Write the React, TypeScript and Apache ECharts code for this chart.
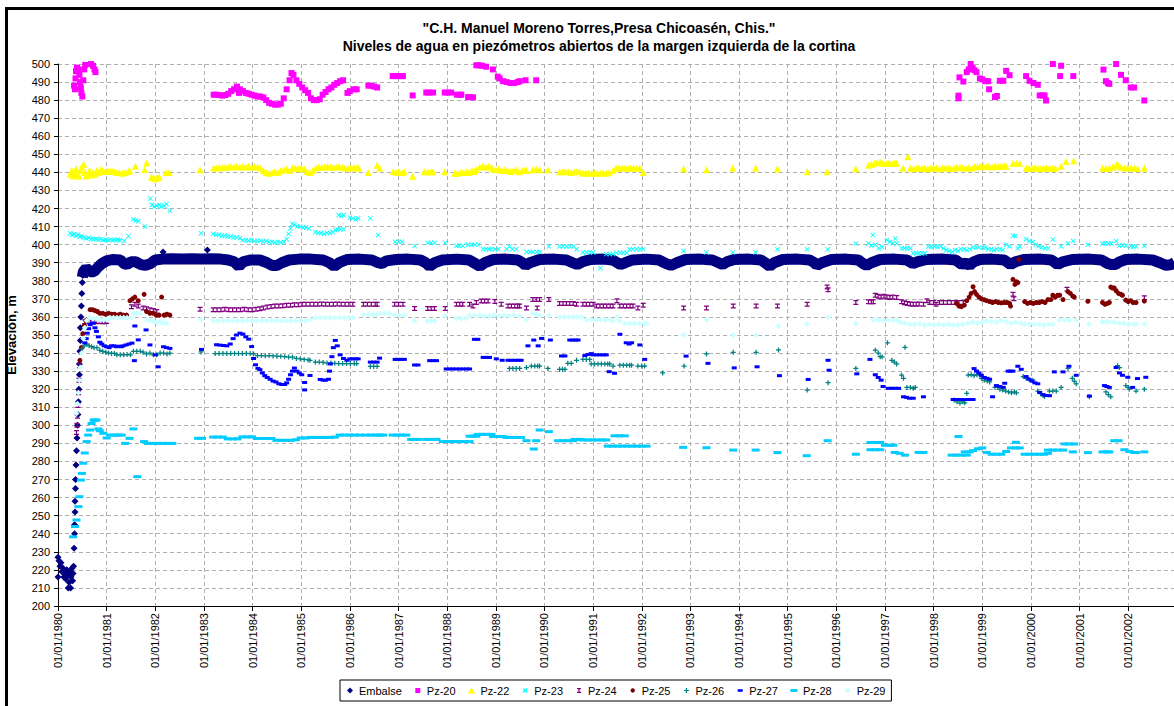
import React, { useEffect, useRef } from 'react';
import * as echarts from 'echarts';

type Pt = [number, number];

const TITLE_LINE_1 = '"C.H. Manuel Moreno Torres,Presa Chicoasén, Chis."';
const TITLE_LINE_2 = 'Niveles de agua en piezómetros abiertos de la margen izquierda de la cortina';
const Y_AXIS_NAME = 'Elevación, m';
const X_MIN = 1980;
const X_MAX = 2002.94;
const Y_MIN = 200;
const Y_MAX = 500;
const Y_STEP = 10;
const X_LABEL_PREFIX = '01/01/';

const SERIES_NAMES = ['Embalse', 'Pz-20', 'Pz-22', 'Pz-23', 'Pz-24', 'Pz-25', 'Pz-26', 'Pz-27', 'Pz-28', 'Pz-29'];
const SERIES_COLORS = ['#000080', '#FF00FF', '#FFFF00', '#00FFFF', '#800080', '#800000', '#008080', '#0000FF', '#00CCFF', '#CCFFFF'];

const EMBALSE_EARLY: Pt[] = [
  [1980.0, 227], [1980.0, 216], [1980.02, 225], [1980.04, 222], [1980.06, 224], [1980.08, 219], [1980.1, 221],
  [1980.12, 216], [1980.14, 218], [1980.16, 215], [1980.18, 220], [1980.2, 217], [1980.21, 210], [1980.23, 213],
  [1980.24, 219], [1980.26, 210], [1980.27, 216], [1980.29, 221], [1980.3, 214], [1980.31, 218], [1980.32, 222],
  [1980.33, 232], [1980.34, 240], [1980.34, 245], [1980.35, 252], [1980.35, 258], [1980.36, 265], [1980.36, 270],
  [1980.37, 278], [1980.38, 286], [1980.39, 293], [1980.4, 300], [1980.41, 306], [1980.42, 313], [1980.43, 320],
  [1980.44, 328], [1980.44, 334], [1980.45, 341], [1980.46, 347], [1980.46, 354], [1980.47, 360], [1980.48, 366],
  [1980.49, 373], [1980.5, 379], [1980.51, 383], [1982.16, 396], [1983.07, 397],
];

const EMBALSE_BAND: Pt[] = [
  [1980.5, 382], [1980.52, 385], [1980.58, 387], [1980.66, 385], [1980.74, 385], [1980.82, 387.5], [1980.9, 389.5],
  [1981.0, 391], [1981.12, 391.8], [1981.28, 391.5], [1981.36, 389.5], [1981.42, 389], [1981.5, 390.5], [1981.6, 390.5],
  [1981.7, 389], [1981.8, 388.5], [1981.9, 389.5], [1982.0, 391.5], [1982.15, 392], [1982.35, 392.2], [1982.55, 392],
  [1982.75, 392.2], [1982.95, 392], [1983.15, 392.2], [1983.35, 392], [1983.5, 391.5], [1983.62, 390.5], [1983.72, 388],
  [1983.8, 390.5], [1983.95, 391.5], [1984.15, 391.5], [1984.3, 390], [1984.4, 388.5], [1984.5, 388.5], [1984.6, 390],
  [1984.75, 391.5], [1984.95, 392], [1985.2, 392], [1985.45, 391.5], [1985.58, 390], [1985.68, 388], [1985.78, 390],
  [1985.95, 391.8], [1986.2, 392], [1986.45, 391.5], [1986.58, 390], [1986.66, 389.5], [1986.75, 391], [1986.95, 391.8],
  [1987.2, 392], [1987.45, 391.5], [1987.56, 390], [1987.64, 388], [1987.74, 390], [1987.9, 391.5], [1988.2, 392],
  [1988.45, 391.5], [1988.58, 389.5], [1988.67, 388], [1988.77, 390], [1988.95, 391.8], [1989.2, 392], [1989.45, 391.5],
  [1989.55, 390], [1989.61, 388.5], [1989.7, 390], [1989.9, 391.8], [1990.2, 392], [1990.45, 391.5], [1990.58, 390],
  [1990.67, 389], [1990.78, 390.5], [1990.95, 391.8], [1991.2, 392], [1991.4, 391.5], [1991.5, 390], [1991.56, 389],
  [1991.66, 390], [1991.8, 391.5], [1992.1, 392], [1992.35, 391.5], [1992.5, 389.5], [1992.6, 388.5], [1992.72, 390],
  [1992.9, 391.8], [1993.2, 392], [1993.45, 391.5], [1993.58, 390], [1993.66, 389], [1993.75, 390.5], [1993.9, 391.8],
  [1994.2, 392], [1994.45, 391.5], [1994.56, 389.5], [1994.63, 388], [1994.72, 390], [1994.9, 391.8], [1995.2, 392],
  [1995.45, 391.5], [1995.55, 390], [1995.6, 388.5], [1995.7, 390], [1995.9, 391.8], [1996.2, 392], [1996.45, 391.5],
  [1996.55, 389.5], [1996.62, 388.5], [1996.72, 390], [1996.9, 391.8], [1997.2, 392], [1997.45, 391.5], [1997.57, 389.5],
  [1997.66, 390.5], [1997.85, 391.8], [1998.2, 392], [1998.45, 391.5], [1998.58, 389], [1998.66, 390], [1998.74, 388.5],
  [1998.82, 390.5], [1998.95, 391.8], [1999.2, 392], [1999.45, 391.5], [1999.53, 390], [1999.58, 389], [1999.68, 390.5],
  [1999.85, 391.8], [2000.2, 392], [2000.42, 391.5], [2000.5, 390], [2000.55, 389], [2000.65, 390.5], [2000.85, 391.8],
  [2001.2, 392], [2001.45, 391.5], [2001.58, 389.5], [2001.66, 389], [2001.74, 389], [2001.82, 390.5], [2001.95, 391.8],
  [2002.2, 392], [2002.5, 391.5], [2002.65, 390], [2002.78, 388.5], [2002.88, 389], [2002.95, 390],
];

const PZ20: Pt[] = [
  [1980.33, 488], [1980.35, 486], [1980.36, 492], [1980.37, 496], [1980.39, 498], [1980.42, 497], [1980.44, 494],
  [1980.45, 490], [1980.47, 487], [1980.48, 484], [1980.5, 482], [1980.52, 491], [1980.54, 497], [1980.56, 499.5],
  [1980.6, 500.5], [1980.64, 500.5], [1980.68, 500], [1980.72, 499], [1980.75, 497], [1980.77, 495.5],
  [1983.2, 483], [1983.26, 483], [1983.32, 482.8], [1983.38, 482.5], [1983.44, 482.8], [1983.5, 483.5], [1983.56, 485],
  [1983.62, 486], [1983.68, 487.5], [1983.72, 484], [1983.74, 486], [1983.8, 485], [1983.86, 484], [1983.92, 483.5],
  [1983.98, 483], [1984.04, 482.5], [1984.1, 482], [1984.16, 482], [1984.22, 481.5], [1984.28, 480], [1984.34, 478.5],
  [1984.4, 478], [1984.46, 477.5], [1984.52, 477.5], [1984.58, 478], [1984.64, 481], [1984.7, 486], [1984.76, 491],
  [1984.8, 495], [1984.84, 494], [1984.9, 491], [1984.96, 489], [1985.02, 487], [1985.08, 485.5], [1985.14, 484],
  [1985.2, 481], [1985.26, 480], [1985.32, 480], [1985.38, 480.5], [1985.44, 483], [1985.5, 484.5], [1985.56, 486],
  [1985.62, 487], [1985.68, 488.5], [1985.74, 489.5], [1985.8, 490.5], [1985.86, 491],
  [1985.95, 484], [1986.0, 485], [1986.08, 486], [1986.14, 486],
  [1986.38, 488], [1986.44, 488], [1986.5, 487.5], [1986.56, 487],
  [1986.88, 493.3], [1986.94, 493.3], [1987.0, 493.3], [1987.06, 493.3], [1987.09, 493.3],
  [1987.29, 482.6], [1987.57, 484.2], [1987.63, 484.2], [1987.71, 484.2], [1987.95, 484.2], [1988.01, 484.2],
  [1988.08, 484.2], [1988.2, 483], [1988.26, 483], [1988.29, 483], [1988.43, 481.7], [1988.48, 481.7], [1988.53, 481.5],
  [1988.6, 499.3], [1988.66, 499.3], [1988.72, 499], [1988.8, 498.5], [1988.94, 497], [1989.04, 493], [1989.08, 492],
  [1989.15, 490.5], [1989.22, 490], [1989.3, 489.5], [1989.38, 489.5], [1989.45, 490], [1989.49, 490.5],
  [1989.61, 491], [1989.83, 491],
  [1998.51, 481], [1998.51, 482.5], [1998.53, 492.6], [1998.61, 490.3], [1998.68, 495.5], [1998.72, 497], [1998.76, 500],
  [1998.8, 498], [1998.84, 496.5], [1998.88, 495.5], [1998.95, 492], [1999.0, 491.5], [1999.06, 490.5], [1999.12, 490.5],
  [1999.14, 486], [1999.26, 481.7], [1999.3, 482.3], [1999.36, 490.7], [1999.43, 490.7], [1999.49, 496.2], [1999.56, 493.8],
  [1999.9, 493.3], [1999.97, 490.7], [2000.05, 489.5], [2000.14, 488.5], [2000.18, 482.6], [2000.24, 482.6],
  [2000.28, 482.6], [2000.31, 479.8], [2000.45, 500], [2000.6, 493.3], [2000.62, 499], [2000.87, 493.3],
  [2001.49, 496.9], [2001.54, 490.5], [2001.58, 489.5], [2001.61, 489], [2001.75, 500], [2001.85, 494], [2001.95, 491],
  [2002.05, 487], [2002.12, 487], [2002.33, 479.8],
];

const PZ22: Pt[] = [
  [1980.25, 439], [1980.28, 441], [1980.31, 438], [1980.34, 440], [1980.37, 442], [1980.4, 439], [1980.43, 438],
  [1980.46, 441], [1980.49, 443], [1980.53, 444.5], [1980.55, 440], [1980.58, 438], [1980.62, 439], [1980.65, 441],
  [1980.68, 438.5], [1980.72, 440], [1980.76, 439], [1980.8, 441], [1980.84, 440], [1980.88, 441.5], [1980.92, 441],
  [1980.97, 440.5], [1981.02, 441], [1981.08, 440.5], [1981.14, 441], [1981.2, 440], [1981.26, 440], [1981.32, 439.5],
  [1981.38, 440], [1981.44, 440.5], [1981.47, 441], [1981.59, 443.4], [1981.78, 441.5], [1981.82, 445.2],
  [1981.92, 437.5], [1981.96, 437], [1982.0, 436.5], [1982.04, 437], [1982.08, 437.5], [1982.22, 440], [1982.29, 440],
  [1982.92, 441.5],
  [1983.2, 442.4], [1983.26, 442.5], [1983.32, 442.8], [1983.38, 442.6], [1983.44, 443], [1983.5, 443], [1983.56, 443.2],
  [1983.62, 443], [1983.68, 443.4], [1983.74, 443], [1983.8, 443.2], [1983.86, 443], [1983.92, 443.4], [1983.98, 443],
  [1984.04, 443.2], [1984.1, 443], [1984.16, 442.5], [1984.22, 441], [1984.28, 440], [1984.34, 439.5], [1984.4, 440],
  [1984.46, 440.5], [1984.52, 440], [1984.58, 441], [1984.64, 441.5], [1984.7, 442], [1984.76, 441], [1984.82, 442.5],
  [1984.88, 442.4], [1984.94, 442], [1985.0, 442.5], [1985.06, 442], [1985.12, 440.5], [1985.18, 440], [1985.24, 441],
  [1985.3, 442.5], [1985.36, 443], [1985.42, 442.8], [1985.48, 443], [1985.54, 443.2], [1985.6, 443], [1985.66, 442.8],
  [1985.72, 443], [1985.78, 443.2], [1985.84, 443], [1985.9, 442.4], [1985.96, 442.5], [1986.02, 442.4], [1986.08, 442.8],
  [1986.14, 442.4], [1986.18, 442.4], [1986.38, 440], [1986.56, 444],
  [1986.61, 442.4], [1986.89, 440.5], [1986.95, 440], [1987.01, 440.3], [1987.07, 440], [1987.12, 440.3], [1987.29, 437.8],
  [1987.53, 440.3], [1987.6, 440.3], [1987.67, 440.3], [1987.71, 440.3], [1987.95, 440.3],
  [1988.15, 439.5], [1988.21, 439.5], [1988.27, 440], [1988.33, 440], [1988.39, 440.5], [1988.45, 440], [1988.51, 441],
  [1988.56, 440.5], [1988.6, 441.5], [1988.67, 443], [1988.73, 443.4], [1988.79, 443], [1988.85, 443.4], [1988.91, 443],
  [1988.94, 442], [1989.0, 441.5], [1989.06, 442], [1989.12, 441], [1989.18, 441.5], [1989.24, 441], [1989.3, 440.5],
  [1989.36, 441], [1989.42, 441.5], [1989.48, 440.3], [1989.54, 441], [1989.6, 441.5], [1989.63, 441],
  [1989.76, 441.5], [1989.83, 442], [1989.9, 441.5], [1990.07, 441.5],
  [1990.31, 440.3], [1990.37, 440.3], [1990.43, 440.5], [1990.49, 440.3], [1990.55, 440], [1990.61, 440.3], [1990.67, 440.5],
  [1990.72, 440.3], [1990.79, 439.5], [1990.85, 440], [1990.91, 439.5], [1990.97, 439.5], [1991.03, 439.8], [1991.09, 439.5],
  [1991.15, 439.5], [1991.21, 439.8], [1991.27, 439.5], [1991.33, 440], [1991.41, 441], [1991.47, 442.4], [1991.53, 442.4],
  [1991.59, 442.6], [1991.65, 442.4], [1991.71, 442.4], [1991.77, 442.6], [1991.83, 442.4], [1991.9, 442.5], [1991.96, 442.4],
  [1992.03, 440], [1992.86, 442], [1993.33, 441.5], [1993.87, 442.4], [1994.34, 442.4], [1994.79, 442], [1995.4, 440.3],
  [1995.81, 440.3], [1996.4, 442],
  [1996.66, 444], [1996.72, 444.5], [1996.78, 445], [1996.84, 445.5], [1996.9, 445.8], [1996.96, 445], [1997.02, 445],
  [1997.08, 445.2], [1997.14, 445], [1997.2, 445], [1997.24, 445], [1997.37, 442.4], [1997.47, 448.6],
  [1997.52, 442.4], [1997.58, 442], [1997.64, 442.4], [1997.7, 442.6], [1997.76, 442.2], [1997.82, 442.4], [1997.88, 442],
  [1997.94, 442.4], [1998.0, 442.6], [1998.06, 442.4], [1998.12, 442], [1998.18, 442.4], [1998.24, 442.6], [1998.3, 442.4],
  [1998.36, 442.2], [1998.42, 442.4], [1998.48, 442.8], [1998.54, 443], [1998.6, 442.6], [1998.66, 442.4], [1998.72, 442.6],
  [1998.78, 442.4], [1998.84, 443.4], [1998.9, 443], [1998.96, 443.4], [1999.02, 443.6], [1999.08, 443.2], [1999.14, 443.4],
  [1999.2, 443], [1999.26, 443.4], [1999.32, 443.6], [1999.38, 443.2], [1999.44, 444], [1999.49, 443.4],
  [1999.63, 445], [1999.7, 445], [1999.77, 445],
  [1999.9, 442.4], [1999.96, 442.2], [2000.02, 442.4], [2000.08, 442.6], [2000.14, 442.4], [2000.2, 442], [2000.26, 442.4],
  [2000.32, 442.6], [2000.38, 442.4], [2000.44, 442.2], [2000.5, 442.4], [2000.62, 443.4], [2000.72, 446], [2000.88, 446.4],
  [2001.47, 442.4], [2001.54, 442.2], [2001.61, 442.4], [2001.68, 443], [2001.75, 444], [2001.78, 444.5], [2001.85, 443],
  [2001.92, 442.4], [2001.99, 442.6], [2002.06, 442.4], [2002.13, 442.4], [2002.19, 442.2], [2002.33, 442.4],
];

const PZ23: Pt[] = [
  [1980.25, 406.3], [1980.29, 405.5], [1980.33, 405.8], [1980.37, 404.8], [1980.41, 405.5], [1980.45, 404.4], [1980.49, 404.6],
  [1980.53, 404], [1980.58, 403.5], [1980.63, 403.8], [1980.68, 403.2], [1980.73, 403], [1980.78, 403.2], [1980.83, 402.8],
  [1980.88, 403], [1980.93, 402.5], [1980.98, 402.8], [1981.03, 402.5], [1981.08, 402.8], [1981.13, 402.5], [1981.18, 402.5],
  [1981.23, 402.8], [1981.27, 402.5], [1981.36, 402], [1981.45, 404.6], [1981.55, 414], [1981.6, 413.5], [1981.65, 413],
  [1981.79, 410], [1981.9, 425.5], [1981.93, 422], [1981.98, 421], [1982.03, 421.5], [1982.08, 422], [1982.13, 421],
  [1982.18, 421.5], [1982.23, 422.5], [1982.3, 418.8], [1982.94, 406.3],
  [1983.19, 406], [1983.25, 405.5], [1983.31, 405.5], [1983.37, 405], [1983.43, 405], [1983.49, 404.5], [1983.55, 404.5],
  [1983.61, 404], [1983.67, 404], [1983.74, 403.5], [1983.8, 402.5], [1983.86, 402.5], [1983.92, 402.3], [1983.98, 402.5],
  [1984.04, 402], [1984.1, 402], [1984.16, 402.2], [1984.22, 401.8], [1984.28, 402], [1984.34, 401.5], [1984.4, 401.5],
  [1984.46, 401.2], [1984.52, 401.5], [1984.58, 401.2], [1984.64, 401.5], [1984.7, 403], [1984.74, 406], [1984.78, 409],
  [1984.82, 411.5], [1984.86, 411], [1984.92, 410], [1984.98, 410], [1985.04, 409.5], [1985.1, 409.5], [1985.16, 409],
  [1985.29, 407], [1985.35, 406.5], [1985.41, 406.5], [1985.47, 406], [1985.53, 406.5], [1985.59, 406.5], [1985.65, 407],
  [1985.7, 408], [1985.75, 408.5], [1985.8, 408.5], [1985.87, 408.5], [1985.77, 416.4], [1985.82, 416], [1985.87, 416.4],
  [1986.0, 415], [1986.06, 414.5], [1986.12, 414], [1986.17, 414.5], [1986.42, 414.6], [1986.58, 405.3],
  [1986.93, 401.6], [1987.0, 401.6], [1987.07, 401.6], [1987.33, 399.2], [1987.6, 401], [1987.67, 401], [1987.74, 401],
  [1987.96, 401], [1988.19, 399.4], [1988.25, 399.4], [1988.32, 399.4], [1988.43, 400], [1988.5, 400], [1988.57, 400],
  [1988.64, 400], [1988.74, 397.5], [1988.8, 397.5], [1988.86, 397.5], [1988.91, 397.5], [1988.98, 397.5], [1989.05, 397.5],
  [1989.22, 397.5], [1989.28, 399], [1989.34, 397.5], [1989.42, 397.5], [1989.63, 396], [1989.7, 396], [1989.77, 396],
  [1989.84, 396], [1989.9, 396], [1990.09, 399], [1990.31, 399], [1990.38, 399], [1990.45, 399], [1990.52, 399],
  [1990.59, 399], [1990.66, 397.5], [1990.79, 395.7], [1990.86, 395.7], [1990.93, 395.7], [1991.0, 395.7], [1991.15, 387],
  [1991.27, 394.8], [1991.34, 394.8], [1991.41, 394.8], [1991.48, 395.5], [1991.55, 395.5], [1991.62, 395.5],
  [1991.69, 395.5], [1991.75, 397.5], [1991.82, 397.5], [1991.89, 397.5], [1991.96, 397.5], [1992.03, 397.5],
  [1992.86, 396.5], [1993.33, 395.7], [1993.87, 395.7], [1994.34, 395.7], [1994.79, 397.5], [1995.4, 397.4],
  [1995.82, 397.4], [1996.4, 400.7],
  [1996.66, 400.7], [1996.72, 399.5], [1996.75, 405.3], [1996.8, 400], [1996.87, 398], [1996.94, 398.8], [1997.04, 402.5],
  [1997.1, 401.5], [1997.16, 400.7], [1997.21, 403.4], [1997.24, 400.7], [1997.34, 398], [1997.4, 398], [1997.46, 398],
  [1997.52, 398], [1997.58, 395.2], [1997.64, 395.2], [1997.7, 395.2], [1997.76, 395.2], [1997.82, 395.2], [1997.89, 399],
  [1997.95, 399], [1998.02, 399], [1998.08, 399], [1998.14, 399], [1998.2, 398], [1998.26, 397], [1998.32, 396.5],
  [1998.38, 396], [1998.44, 397], [1998.5, 396.5], [1998.56, 397.5], [1998.62, 397.5], [1998.68, 397], [1998.74, 397.5],
  [1998.81, 398.5], [1998.87, 398.5], [1998.93, 398.5], [1999.0, 398.5], [1999.06, 398.5], [1999.12, 397.5],
  [1999.18, 397.5], [1999.24, 397], [1999.3, 397.5], [1999.36, 397.5], [1999.42, 397], [1999.49, 400], [1999.56, 399],
  [1999.63, 405], [1999.68, 404.8], [1999.73, 398], [1999.77, 399], [1999.9, 403], [1999.97, 402], [2000.04, 401.5],
  [2000.1, 400], [2000.16, 399], [2000.22, 398.5], [2000.29, 398], [2000.35, 398], [2000.45, 402.8], [2000.62, 399],
  [2000.76, 400.7], [2000.87, 402], [2001.17, 400], [2001.47, 400.7], [2001.53, 400.7], [2001.59, 400.7], [2001.65, 400.7],
  [2001.75, 402], [2001.82, 399.5], [2001.88, 399.5], [2001.95, 399.5], [2002.05, 399], [2002.1, 399], [2002.16, 399],
  [2002.33, 399.2],
];

const PZ24: Pt[] = [
  [1980.38, 296], [1980.39, 300], [1980.4, 305], [1980.41, 311], [1980.42, 318], [1980.43, 325], [1980.44, 333],
  [1980.55, 357.3], [1980.61, 357.5], [1980.67, 357.3], [1980.73, 357.5], [1980.79, 357.3], [1980.85, 357.5],
  [1980.91, 357.3], [1980.97, 357.3], [1981.0, 357.5], [1981.51, 365.6], [1981.58, 367], [1981.65, 366],
  [1981.75, 365], [1981.82, 364.5], [1981.89, 364], [1981.96, 363.5], [1982.03, 363], [1982.92, 364.2],
  [1983.19, 364], [1983.27, 364], [1983.35, 364], [1983.43, 364.2], [1983.51, 364], [1983.59, 364], [1983.67, 364],
  [1983.75, 364], [1983.83, 364.2], [1983.91, 364], [1983.99, 364], [1984.07, 364.2], [1984.15, 364.5], [1984.22, 365],
  [1984.3, 365.5], [1984.38, 365.8], [1984.46, 366], [1984.54, 366], [1984.62, 366.2], [1984.7, 366.5], [1984.78, 366.5],
  [1984.86, 366.8], [1984.94, 366.8], [1985.02, 367], [1985.1, 367], [1985.18, 367], [1985.26, 367], [1985.34, 367],
  [1985.42, 367.2], [1985.5, 367], [1985.58, 367], [1985.66, 367], [1985.74, 367.2], [1985.82, 367], [1985.9, 367],
  [1985.98, 367], [1986.06, 367], [1986.28, 367], [1986.36, 367], [1986.44, 367], [1986.52, 367], [1986.56, 367],
  [1986.92, 367], [1987.0, 367], [1987.09, 367], [1987.33, 364.7], [1987.6, 364.7], [1987.67, 364.7], [1987.74, 364.7],
  [1987.96, 364.7], [1988.19, 367], [1988.26, 367], [1988.32, 367], [1988.46, 367], [1988.53, 366], [1988.6, 368],
  [1988.7, 368.8], [1988.77, 368.8], [1988.84, 368.8], [1988.98, 368.5], [1989.11, 367], [1989.25, 366], [1989.32, 366],
  [1989.39, 366], [1989.45, 366], [1989.49, 366], [1989.63, 365], [1989.76, 369.7], [1989.83, 369.7], [1989.85, 365],
  [1989.9, 369.7], [1990.09, 369.7], [1990.31, 367.5], [1990.38, 367.5], [1990.45, 367.5], [1990.52, 367.5],
  [1990.59, 367.5], [1990.66, 367], [1990.79, 367], [1990.86, 367], [1990.93, 367], [1991.0, 367], [1991.07, 366],
  [1991.14, 366], [1991.21, 366], [1991.28, 366], [1991.35, 366], [1991.41, 366], [1991.49, 368.9], [1991.55, 366],
  [1991.62, 366], [1991.69, 366], [1991.76, 366], [1991.82, 366], [1991.92, 365], [1992.03, 366.5], [1992.86, 365],
  [1993.33, 365], [1993.88, 366], [1994.35, 366], [1994.79, 366], [1995.4, 367], [1995.81, 376.5], [1995.83, 375],
  [1996.4, 368], [1996.66, 368.4], [1996.72, 368.4], [1996.76, 368.4], [1996.8, 372], [1996.86, 371.5], [1996.92, 371],
  [1996.98, 371.5], [1997.04, 371], [1997.1, 370.7], [1997.16, 371], [1997.24, 370.7], [1997.34, 368.4], [1997.4, 367.8],
  [1997.46, 367.5], [1997.52, 367.2], [1997.58, 367], [1997.64, 367], [1997.7, 367.2], [1997.79, 367], [1997.86, 369],
  [1997.92, 368], [1998.0, 368], [1998.05, 367], [1998.12, 368], [1998.2, 368], [1998.28, 368], [1998.36, 368],
  [1998.44, 368], [1998.52, 368], [1998.61, 368], [1999.63, 372.5], [1999.65, 370], [2000.74, 375.3], [2002.33, 370.6],
];

const PZ25: Pt[] = [
  [1980.45, 336], [1980.48, 343], [1980.51, 350.7], [1980.54, 355.3], [1980.57, 358], [1980.6, 358.5], [1980.66, 364],
  [1980.71, 364], [1980.76, 363.5], [1980.81, 363], [1980.86, 362], [1980.92, 362], [1980.98, 361.5], [1981.04, 362],
  [1981.1, 361.5], [1981.16, 361.5], [1981.22, 361], [1981.28, 361.5], [1981.34, 361], [1981.41, 361], [1981.48, 369],
  [1981.53, 370], [1981.58, 371], [1981.65, 369], [1981.77, 372.5], [1981.82, 363], [1981.89, 362], [1981.96, 362],
  [1982.02, 361], [1982.08, 361], [1982.13, 371], [1982.18, 361], [1982.24, 361.5], [1982.3, 361],
  [1998.47, 367.5], [1998.52, 366], [1998.57, 365.7], [1998.63, 366.5], [1998.68, 369], [1998.73, 371], [1998.77, 373],
  [1998.81, 376.7], [1998.84, 374], [1998.88, 372.5], [1998.93, 371], [1998.98, 370], [1999.04, 369.5], [1999.09, 369],
  [1999.15, 368.5], [1999.21, 368], [1999.27, 368.5], [1999.33, 368], [1999.39, 367.8], [1999.45, 368], [1999.51, 368],
  [1999.56, 367.5], [1999.58, 366], [1999.63, 380.8], [1999.67, 378], [1999.7, 379.5], [1999.73, 379], [1999.75, 391.9],
  [1999.87, 368.5], [1999.93, 367.5], [1999.99, 368], [2000.05, 367.5], [2000.11, 368], [2000.17, 368], [2000.23, 368.5],
  [2000.29, 368], [2000.35, 369.6], [2000.41, 369.6], [2000.45, 372], [2000.5, 371], [2000.55, 372], [2000.59, 372],
  [2000.66, 369.6], [2000.76, 374], [2000.81, 373], [2000.86, 371.5], [2000.89, 371], [2001.17, 368.7], [2001.47, 368],
  [2001.52, 367], [2001.57, 367.5], [2001.61, 368], [2001.64, 376.5], [2001.68, 376], [2001.71, 376], [2001.75, 374.5],
  [2001.8, 373], [2001.85, 372.5], [2001.88, 372], [2001.95, 369.3], [2002.0, 368.5], [2002.05, 369], [2002.1, 368],
  [2002.16, 368], [2002.33, 368.8],
];

const PZ26: Pt[] = [
  [1980.49, 342.3], [1980.54, 344], [1980.59, 345], [1980.64, 344], [1980.69, 343.5], [1980.74, 343], [1980.8, 343],
  [1980.86, 341.5], [1980.92, 341], [1980.98, 340.5], [1981.04, 340], [1981.1, 339.8], [1981.16, 339.8], [1981.21, 339],
  [1981.28, 339], [1981.35, 339], [1981.42, 339.2], [1981.49, 339], [1981.55, 341], [1981.62, 341], [1981.69, 341],
  [1981.75, 340.5], [1981.82, 339.5], [1981.89, 340], [1981.96, 339], [1982.03, 339], [1982.1, 340], [1982.17, 340],
  [1982.24, 339.5], [1982.3, 340], [1982.94, 340.6],
  [1983.23, 339.7], [1983.31, 339.7], [1983.39, 339.8], [1983.47, 339.7], [1983.55, 339.7], [1983.63, 339.8], [1983.71, 339.7],
  [1983.79, 339.7], [1983.87, 339.8], [1983.95, 339.7], [1984.02, 339.5], [1984.1, 338.6], [1984.18, 338.6], [1984.26, 338.5],
  [1984.34, 338.6], [1984.42, 338.4], [1984.5, 338.3], [1984.58, 338.2], [1984.66, 338], [1984.74, 337.8], [1984.82, 337.7],
  [1984.9, 337], [1984.98, 336.8], [1985.06, 336.5], [1985.14, 336.2], [1985.18, 336], [1985.29, 335], [1985.37, 335],
  [1985.45, 334.8], [1985.53, 334.5], [1985.61, 334.5], [1985.69, 334.3], [1985.77, 334.2], [1985.85, 334.2], [1985.93, 334.2],
  [1986.01, 334.2], [1986.09, 334.2], [1986.14, 334.2], [1986.42, 332.6], [1986.49, 332.6], [1986.56, 332.6],
  [1989.28, 331.5], [1989.35, 331.5], [1989.42, 331.5], [1989.49, 331.5], [1989.63, 332], [1989.73, 332.8], [1989.8, 332.8],
  [1989.86, 332.8], [1989.9, 332.8], [1990.07, 331.5], [1990.31, 331], [1990.37, 331], [1990.42, 331], [1990.48, 334.3],
  [1990.55, 334.3], [1990.66, 336], [1990.79, 336.5], [1990.86, 336.5], [1990.93, 336.5], [1990.96, 334], [1991.03, 334],
  [1991.1, 334], [1991.17, 334], [1991.24, 334], [1991.3, 334], [1991.34, 334], [1991.41, 332.8], [1991.55, 333.3],
  [1991.62, 333.3], [1991.69, 333.3], [1991.75, 333.3], [1991.79, 333.3], [1991.92, 332.8], [1992.0, 332.8], [1992.06, 332.8],
  [1992.43, 329], [1992.87, 332.8], [1993.33, 339.5], [1993.88, 340.4], [1994.35, 340.4], [1994.81, 341.7], [1995.4, 319.5],
  [1995.83, 323.6], [1996.4, 331.5],
  [1996.8, 341.6], [1996.86, 340], [1996.9, 338], [1996.94, 337.9], [1997.05, 345.7], [1997.14, 336], [1997.19, 335],
  [1997.24, 334], [1997.34, 327.8], [1997.38, 326], [1997.41, 343.2], [1997.45, 321], [1997.52, 321], [1997.58, 320.5],
  [1997.62, 321], [1998.42, 314], [1998.48, 313], [1998.54, 312.3], [1998.6, 313], [1998.64, 312.5], [1998.68, 317.7],
  [1998.71, 327.8], [1998.77, 328], [1998.83, 327.5], [1998.89, 328], [1998.95, 327.8], [1998.98, 326], [1999.04, 325],
  [1999.1, 324.5], [1999.15, 324], [1999.26, 321], [1999.32, 321], [1999.36, 320], [1999.42, 319.5], [1999.48, 319],
  [1999.54, 318.5], [1999.6, 318], [1999.66, 318.5], [1999.7, 318], [1999.84, 327], [1999.9, 326], [1999.96, 325.5],
  [2000.04, 325], [2000.14, 319], [2000.2, 317.5], [2000.25, 316.5], [2000.28, 316], [2000.38, 319], [2000.45, 319],
  [2000.52, 319], [2000.62, 321], [2000.76, 331.5], [2000.85, 326], [2000.89, 324.5], [2000.93, 323], [2001.2, 315.8],
  [2001.54, 318.5], [2001.59, 317], [2001.64, 315.8], [2001.78, 333], [2001.82, 332], [2001.95, 322], [2002.0, 321],
  [2002.02, 320], [2002.16, 319], [2002.33, 320],
];

const PZ27: Pt[] = [
  [1980.55, 345.6], [1980.58, 348], [1980.6, 351], [1980.63, 353.5], [1980.66, 355.7], [1980.7, 356.5], [1980.73, 356.6],
  [1980.76, 354], [1980.79, 352], [1980.83, 349], [1980.86, 346], [1980.9, 345], [1980.95, 344], [1981.0, 343.5],
  [1981.05, 343], [1981.1, 344], [1981.15, 344], [1981.2, 343.5], [1981.25, 343.8], [1981.3, 343.5], [1981.34, 344],
  [1981.4, 344.5], [1981.46, 345], [1981.52, 345.5], [1981.57, 335.8], [1981.58, 355], [1981.65, 347.3], [1981.81, 352.8],
  [1981.89, 344.5], [1982.0, 339], [1982.06, 332.4], [1982.17, 343.5], [1982.23, 343], [1982.3, 342.6], [1982.95, 342],
  [1983.26, 344.6], [1983.33, 344.4], [1983.4, 344.2], [1983.47, 344], [1983.54, 345], [1983.6, 348], [1983.67, 350],
  [1983.74, 351], [1983.8, 350.5], [1983.86, 349], [1983.92, 347.7], [1983.98, 343.6], [1984.02, 337], [1984.06, 333.5],
  [1984.11, 331.5], [1984.15, 330.8], [1984.2, 329], [1984.25, 327.5], [1984.3, 326.5], [1984.36, 325.5], [1984.42, 324.5],
  [1984.48, 324], [1984.54, 323], [1984.6, 322.6], [1984.66, 322.6], [1984.7, 323.5], [1984.74, 325.5], [1984.78, 328],
  [1984.82, 330], [1984.86, 331.7], [1984.91, 330], [1984.96, 329], [1985.01, 328], [1985.07, 323.7], [1985.07, 319.6],
  [1985.18, 327.6], [1985.39, 325.4], [1985.45, 325], [1985.5, 325], [1985.56, 325.5], [1985.58, 330], [1985.6, 334],
  [1985.63, 338], [1985.66, 343], [1985.7, 347], [1985.74, 344], [1985.8, 339], [1985.87, 337], [1985.94, 336],
  [1986.0, 336.8], [1986.06, 336.8], [1986.12, 336.8], [1986.17, 336.8], [1986.42, 335], [1986.49, 335], [1986.56, 335],
  [1986.61, 337.2], [1986.93, 336.5], [1986.99, 336.5], [1987.05, 336.5], [1987.12, 336.5], [1987.33, 333.4], [1987.4, 333.4],
  [1987.64, 335.8], [1987.71, 335.8], [1987.78, 335.8], [1987.98, 331.2], [1988.05, 331.2], [1988.12, 331.2], [1988.19, 331.2],
  [1988.26, 331.2], [1988.33, 331.2], [1988.4, 331.2], [1988.46, 331.2], [1988.56, 347.6], [1988.63, 347.6], [1988.74, 337.6],
  [1988.8, 337.6], [1988.87, 337.6], [1989.01, 336.8], [1989.13, 336], [1989.25, 336], [1989.32, 336], [1989.39, 336],
  [1989.46, 336], [1989.52, 336], [1989.66, 344], [1989.78, 347.2], [1989.87, 344], [1989.94, 348.1], [1990.12, 347.2],
  [1990.35, 338.4], [1990.42, 338.4], [1990.52, 347.2], [1990.58, 347.2], [1990.64, 347.2], [1990.69, 347.2], [1990.83, 338.6],
  [1990.9, 339.2], [1990.96, 339.7], [1991.0, 339], [1991.07, 339], [1991.14, 339], [1991.21, 339], [1991.27, 339],
  [1991.33, 329.7], [1991.44, 328.8], [1991.55, 350.4], [1991.68, 345.7], [1991.74, 345], [1991.79, 345.7], [1991.96, 344.5],
  [1992.06, 336.5], [1992.91, 338.3], [1993.36, 334.3], [1993.9, 331.8], [1994.37, 332.4], [1994.83, 327.5], [1995.42, 325.4],
  [1995.83, 336], [1995.85, 330.5], [1996.42, 328.5], [1996.69, 336.5],
  [1996.8, 328], [1996.86, 326.5], [1996.92, 325], [1996.96, 321.5], [1997.07, 320.5], [1997.14, 320.5], [1997.21, 320.5],
  [1997.28, 320.5], [1997.38, 315.8], [1997.44, 315.5], [1997.5, 315], [1997.58, 315], [1997.79, 315.8], [1998.4, 314.3],
  [1998.46, 314.3], [1998.52, 314.3], [1998.58, 314.3], [1998.64, 314.3], [1998.7, 314.3], [1998.76, 314.3], [1998.81, 314.3],
  [1998.83, 331.4], [1998.88, 330], [1998.93, 329], [1998.98, 327.7], [1999.04, 326.5], [1999.1, 326], [1999.15, 325.5],
  [1999.21, 315.8], [1999.29, 322], [1999.36, 321.5], [1999.43, 321], [1999.46, 323.3], [1999.53, 330], [1999.58, 330],
  [1999.63, 330], [1999.73, 332.7], [1999.8, 331], [1999.9, 327], [1999.96, 325.5], [2000.02, 324.5], [2000.08, 323.5],
  [2000.14, 323], [2000.18, 318.2], [2000.25, 317], [2000.31, 316.5], [2000.38, 316.4], [2000.48, 329.6], [2000.66, 329.6],
  [2000.78, 332.7], [2000.93, 327.7], [2001.2, 316.2], [2001.51, 322], [2001.56, 321.5], [2001.61, 321], [2001.75, 332],
  [2001.82, 329], [2001.88, 327.7], [2001.99, 326.6], [2002.09, 321], [2002.19, 325.9], [2002.36, 326.6],
];

const PZ28: Pt[] = [
  [1980.31, 238.3], [1980.35, 244], [1980.38, 247.6], [1980.42, 255], [1980.44, 260.5], [1980.47, 269.7], [1980.49, 273.4],
  [1980.52, 279], [1980.55, 284.7], [1980.59, 291], [1980.62, 294.6], [1980.66, 297.4], [1980.69, 301], [1980.73, 302.9],
  [1980.76, 302.9], [1980.79, 302.9], [1980.83, 298], [1980.86, 297], [1980.93, 295.6], [1981.0, 293], [1981.07, 294.6],
  [1981.15, 294.6], [1981.23, 294.6], [1981.31, 294.6], [1981.38, 290], [1981.47, 292.8], [1981.55, 298], [1981.63, 271.6],
  [1981.77, 291], [1981.85, 290], [1981.95, 290], [1982.05, 290], [1982.15, 290], [1982.25, 290], [1982.35, 290],
  [1982.88, 292.8], [1982.96, 292.8],
  [1983.19, 293.5], [1983.29, 293.5], [1983.39, 293.5], [1983.49, 292.5], [1983.59, 292.5], [1983.69, 292.5], [1983.79, 293.6],
  [1983.89, 293.6], [1983.99, 293.6], [1984.09, 292.7], [1984.19, 292.7], [1984.29, 292.7], [1984.39, 292.7], [1984.49, 291.7],
  [1984.59, 291.7], [1984.69, 291.7], [1984.79, 291.7], [1984.89, 292], [1984.99, 293], [1985.09, 293], [1985.19, 293.3],
  [1985.29, 293.3], [1985.39, 293.3], [1985.49, 293.3], [1985.59, 293.3], [1985.69, 293.5], [1985.79, 294.6], [1985.89, 294.6],
  [1985.99, 294.6], [1986.09, 294.6], [1986.2, 294.6], [1986.33, 294.6], [1986.43, 294.6], [1986.54, 294.6],
  [1986.61, 294.6], [1986.68, 294.6], [1986.88, 294.6], [1986.97, 294.6], [1987.06, 294.6], [1987.16, 294.6], [1987.26, 292.2],
  [1987.33, 292.2], [1987.4, 292.2], [1987.57, 292.2], [1987.67, 292.2], [1987.78, 292.2], [1987.91, 291], [1988.0, 291],
  [1988.09, 291], [1988.18, 291], [1988.27, 291], [1988.36, 291], [1988.46, 291], [1988.46, 294], [1988.54, 294], [1988.6, 294],
  [1988.63, 295], [1988.72, 295], [1988.81, 295], [1988.91, 295], [1988.94, 293.8], [1989.04, 293.8], [1989.15, 293.8],
  [1989.22, 293.3], [1989.3, 293.3], [1989.4, 293.3], [1989.52, 293.3], [1989.63, 291.5], [1989.78, 286.9], [1989.83, 291.5],
  [1989.9, 297.4], [1990.09, 296.5], [1990.28, 291.5], [1990.38, 291.5], [1990.48, 291.5], [1990.59, 291.5], [1990.62, 292.2],
  [1990.72, 292.2], [1990.79, 291.9], [1990.89, 291.9], [1990.99, 291.9], [1991.09, 291.9], [1991.19, 291.9], [1991.27, 291.9],
  [1991.3, 288.5], [1991.4, 288.5], [1991.44, 294.2], [1991.54, 294.2], [1991.65, 294.2], [1991.5, 288.5], [1991.6, 288.5],
  [1991.7, 288.5], [1991.8, 288.5], [1991.9, 288.5], [1992.0, 288.5], [1992.1, 288.5], [1992.85, 287.8], [1993.33, 287.6],
  [1993.88, 286.3], [1994.34, 286.3], [1994.79, 284.9], [1995.39, 283.2], [1995.82, 291.5], [1996.4, 284],
  [1996.7, 290.5], [1996.8, 290.5], [1996.9, 290.5], [1996.7, 286.5], [1996.8, 286.5], [1996.9, 286.5], [1997.0, 289],
  [1997.1, 289], [1997.17, 289], [1997.2, 285], [1997.3, 284.5], [1997.41, 283.5], [1997.69, 285], [1997.79, 285],
  [1998.37, 283.5], [1998.47, 283.5], [1998.57, 283.5], [1998.68, 283.5], [1998.51, 293.8], [1998.64, 285.3], [1998.74, 285.3],
  [1998.81, 286], [1998.91, 287], [1999.0, 287.5], [1999.09, 285], [1999.19, 284], [1999.29, 284], [1999.39, 284],
  [1999.49, 285.5], [1999.59, 287.5], [1999.69, 290.6], [1999.69, 287.5], [1999.77, 287.5], [1999.87, 284], [1999.97, 284],
  [2000.07, 284], [2000.17, 284], [2000.27, 284], [2000.35, 284.5], [2000.35, 286.3], [2000.45, 286.3], [2000.55, 286.3],
  [2000.66, 286.3], [2000.69, 289.7], [2000.79, 289.7], [2000.89, 289.7], [2000.86, 285.3], [2001.17, 284.9], [2001.47, 285.3],
  [2001.56, 285.3], [2001.61, 285.3], [2001.71, 291.5], [2001.8, 291.5], [2001.92, 286.5], [2002.02, 285.5], [2002.12, 285],
  [2002.16, 285], [2002.33, 285.3],
];

const PZ29: Pt[] = [
  [1980.38, 306.7], [1980.4, 312], [1980.42, 318], [1980.44, 325], [1980.46, 332], [1980.49, 340], [1980.52, 348],
  [1980.55, 354], [1980.59, 358], [1980.65, 359.5], [1980.72, 359], [1980.79, 359], [1980.86, 358.5], [1980.93, 358.5],
  [1981.0, 358.4], [1981.07, 359.5], [1981.14, 359.5], [1981.21, 359.5], [1981.28, 359.5], [1981.35, 359.5], [1981.42, 359.5],
  [1981.49, 359.5], [1981.55, 362], [1981.62, 362], [1981.69, 362], [1981.82, 358.3], [1981.89, 358], [1981.96, 357.5],
  [1982.03, 357], [1982.1, 357], [1982.17, 356.7], [1982.23, 356.7], [1982.94, 358.6],
  [1983.19, 357.9], [1983.29, 357.9], [1983.39, 358], [1983.49, 357.9], [1983.59, 357.8], [1983.69, 357.9], [1983.79, 357.9],
  [1983.89, 358], [1983.99, 357.9], [1984.09, 357.8], [1984.19, 357.9], [1984.29, 357.9], [1984.39, 358], [1984.49, 357.9],
  [1984.59, 357.9], [1984.69, 357.8], [1984.79, 357.9], [1984.89, 357.9], [1984.99, 358], [1985.09, 357.9], [1985.19, 358.5],
  [1985.29, 359.5], [1985.39, 359.5], [1985.49, 359.5], [1985.59, 359.5], [1985.69, 359.5], [1985.79, 359.5], [1985.89, 359.5],
  [1985.99, 359.5], [1986.07, 359.5], [1986.28, 361.4], [1986.38, 361.4], [1986.48, 361.4], [1986.56, 361.4],
  [1986.61, 362], [1986.71, 362], [1986.81, 362], [1986.92, 361], [1987.02, 361], [1987.12, 361], [1987.33, 357.7],
  [1987.6, 357.7], [1987.67, 357.7], [1987.74, 357.7], [1987.96, 360.5], [1988.19, 359.2], [1988.29, 359.2], [1988.39, 359.2],
  [1988.46, 361], [1988.56, 361], [1988.67, 361], [1988.77, 360.5], [1988.87, 360.5], [1988.97, 361], [1989.07, 360.5],
  [1989.17, 361], [1989.27, 360.5], [1989.37, 361], [1989.49, 360.5], [1989.63, 358.5], [1989.76, 362], [1989.83, 361.5],
  [1989.9, 361], [1990.09, 361], [1990.31, 360], [1990.41, 360], [1990.51, 360], [1990.59, 360], [1990.66, 360], [1990.76, 360],
  [1990.86, 358.5], [1990.96, 358.5], [1991.06, 358.5], [1991.16, 358.5], [1991.26, 358.5], [1991.36, 358.5], [1991.41, 357.8],
  [1991.49, 360], [1991.55, 357.8], [1991.65, 356.4], [1991.75, 356.4], [1991.85, 356.4], [1991.95, 356.4], [1992.05, 356.4],
  [1992.1, 356.4], [1992.86, 350], [1993.33, 358.5], [1993.88, 350], [1994.35, 350], [1994.81, 355], [1995.39, 356],
  [1995.83, 359.8], [1996.4, 356.4],
  [1996.76, 358.3], [1996.86, 358.5], [1996.96, 358], [1997.06, 358.3], [1997.16, 358], [1997.24, 358.3], [1997.31, 357],
  [1997.41, 356.5], [1997.51, 356], [1997.61, 355.8], [1997.71, 356.2], [1997.81, 355.5], [1997.91, 356], [1998.01, 355.5],
  [1998.11, 356], [1998.21, 355.5], [1998.31, 356], [1998.4, 355.5], [1998.5, 355.5], [1998.6, 356], [1998.7, 356.5],
  [1998.8, 357], [1998.9, 356.5], [1999.0, 357], [1999.09, 358], [1999.19, 357.5], [1999.29, 357], [1999.39, 358],
  [1999.49, 357.5], [1999.59, 356.5], [1999.69, 357], [1999.8, 356.5], [1999.87, 356], [1999.97, 356], [2000.07, 355.8],
  [2000.17, 356], [2000.27, 355.5], [2000.37, 356], [2000.45, 356], [2000.59, 358.3], [2000.69, 358.3], [2000.79, 358.3],
  [2000.93, 358.3], [2001.19, 356], [2001.47, 357.3], [2001.54, 357.3], [2001.61, 357.3], [2001.71, 357], [2001.81, 356.5],
  [2001.91, 356.5], [2002.01, 356], [2002.11, 356], [2002.16, 356], [2002.33, 356],
];

const FONT = '"Liberation Sans", Arial, sans-serif';

const SYM_X = 'path://M0,1L1,0L4,3L7,0L8,1L5,4L8,7L7,8L4,5L1,8L0,7L3,4Z';
const SYM_I = 'path://M0,0H8V2H5V6H8V8H0V6H3V2H0Z';
const SYM_PLUS = 'path://M3,0H5V3H8V5H5V8H3V5H0V3H3Z';

const LEGEND_ICONS = [
  'path://M0,0M8,8M4,1L7,4L4,7L1,4Z',
  'path://M0,0M8,8M1.5,1.5H6.5V6.5H1.5Z',
  'path://M0,0M8,8M4,1L7.5,7H0.5Z',
  'path://M0,0M8,8M1.5,2.5L2.5,1.5L4,3L5.5,1.5L6.5,2.5L5,4L6.5,5.5L5.5,6.5L4,5L2.5,6.5L1.5,5.5L3,4Z',
  'path://M0,0M8,8M2,1.5H6V2.8H4.6V5.2H6V6.5H2V5.2H3.4V2.8H2Z',
  'path://M0,0M8,8M4,1.8A2.2,2.2,0,1,1,3.99,1.8Z',
  'path://M0,0M8,8M3.4,1.5H4.6V3.4H6.5V4.6H4.6V6.5H3.4V4.6H1.5V3.4H3.4Z',
  'path://M0,0M8,8M1.5,2.7H6.5V5.3H1.5Z',
  'path://M0,0M8,8M0.5,2.5H7.5V5.5H0.5Z',
  'path://M0,0M8,8M4,1L7,4L4,7L1,4Z',
];

function scatter(name: string, color: string, data: Pt[], symbol: string, size: number | number[]) {
  return {
    type: 'scatter',
    name,
    data,
    symbol,
    symbolSize: size,
    symbolKeepAspect: false,
    itemStyle: { color, opacity: 1 },
    emphasis: { disabled: true },
    silent: true,
  };
}

function buildOption() {
  const splitLine = { show: true, lineStyle: { type: [4, 3], color: '#b0b0b0', width: 1 } };
  return {
    animation: false,
    backgroundColor: '#ffffff',
    textStyle: { fontFamily: FONT },
    grid: { left: 58, right: 0, top: 64, bottom: 100, containLabel: false, outerBoundsMode: 'none' },
    xAxis: {
      type: 'value',
      min: X_MIN,
      max: X_MAX,
      interval: 1,
      axisLine: { show: true, lineStyle: { color: '#000', width: 1 } },
      axisTick: { show: true, length: 5, lineStyle: { color: '#000' } },
      axisLabel: {
        rotate: 90,
        margin: 7,
        fontSize: 11,
        color: '#000',
        fontFamily: FONT,
        showMaxLabel: false,
        formatter: (v: number) => (Number.isInteger(v) ? X_LABEL_PREFIX + v : ''),
      },
      splitLine,
    },
    yAxis: {
      type: 'value',
      min: Y_MIN,
      max: Y_MAX,
      interval: Y_STEP,
      name: Y_AXIS_NAME,
      nameLocation: 'middle',
      nameGap: 40,
      nameRotate: 90,
      nameTextStyle: { fontWeight: 'bold', fontSize: 13, color: '#000', fontFamily: FONT },
      axisLine: { show: true, lineStyle: { color: '#000', width: 1 } },
      axisTick: { show: true, length: 4, lineStyle: { color: '#000' } },
      axisLabel: { margin: 8, fontSize: 11, color: '#000', fontFamily: FONT },
      splitLine,
    },
    legend: {
      left: 340,
      top: 680,
      orient: 'horizontal',
      padding: [5, 6],
      itemGap: 12,
      itemWidth: 8,
      itemHeight: 8,
      borderColor: '#000',
      borderWidth: 1,
      backgroundColor: '#fff',
      selectedMode: false,
      textStyle: { fontSize: 11, color: '#000', fontFamily: FONT },
      data: SERIES_NAMES.map((n, i) => ({ name: n, icon: LEGEND_ICONS[i] })),
    },
    graphic: [
      { type: 'rect', shape: { x: 5, y: 7, width: 1169, height: 3 }, style: { fill: '#000' }, silent: true },
      { type: 'rect', shape: { x: 5, y: 7, width: 3, height: 699 }, style: { fill: '#000' }, silent: true },
      {
        type: 'text', x: 599, y: 28, silent: true,
        style: { text: TITLE_LINE_1, fill: '#000', font: 'bold 14px ' + FONT, textAlign: 'center', textVerticalAlign: 'middle', align: 'center', verticalAlign: 'middle' },
      },
      {
        type: 'text', x: 599, y: 46, silent: true,
        style: { text: TITLE_LINE_2, fill: '#000', font: 'bold 14px ' + FONT, textAlign: 'center', textVerticalAlign: 'middle', align: 'center', verticalAlign: 'middle' },
      },
    ],
    series: [
      {
        type: 'line',
        name: 'Embalse nivel',
        data: EMBALSE_BAND,
        symbol: 'none',
        lineStyle: { color: SERIES_COLORS[0], width: 11 },
        itemStyle: { color: SERIES_COLORS[0] },
        emphasis: { disabled: true },
        silent: true,
        z: 2,
      },
      scatter(SERIES_NAMES[0], SERIES_COLORS[0], EMBALSE_EARLY, 'diamond', 7),
      scatter(SERIES_NAMES[1], SERIES_COLORS[1], PZ20, 'rect', 6),
      scatter(SERIES_NAMES[2], SERIES_COLORS[2], PZ22, 'triangle', 7),
      scatter(SERIES_NAMES[3], SERIES_COLORS[3], PZ23, SYM_X, 5),
      scatter(SERIES_NAMES[4], SERIES_COLORS[4], PZ24, SYM_I, 5),
      scatter(SERIES_NAMES[5], SERIES_COLORS[5], PZ25, 'circle', 5),
      scatter(SERIES_NAMES[6], SERIES_COLORS[6], PZ26, SYM_PLUS, 5),
      scatter(SERIES_NAMES[7], SERIES_COLORS[7], PZ27, 'rect', [5, 3]),
      scatter(SERIES_NAMES[8], SERIES_COLORS[8], PZ28, 'rect', [8, 3]),
      scatter(SERIES_NAMES[9], SERIES_COLORS[9], PZ29, 'diamond', 6),
    ],
  };
}

export default function App() {
  const ref = useRef<HTMLDivElement>(null);
  useEffect(() => {
    if (!ref.current) return;
    const chart = echarts.init(ref.current, undefined, { renderer: 'svg' });
    chart.setOption(buildOption() as any);
    return () => {
      chart.dispose();
    };
  }, []);
  return (
    <div
      ref={ref}
      style={{ position: 'absolute', left: 0, top: 0, width: 1174, height: 706, background: '#ffffff', overflow: 'hidden' }}
    />
  );
}
